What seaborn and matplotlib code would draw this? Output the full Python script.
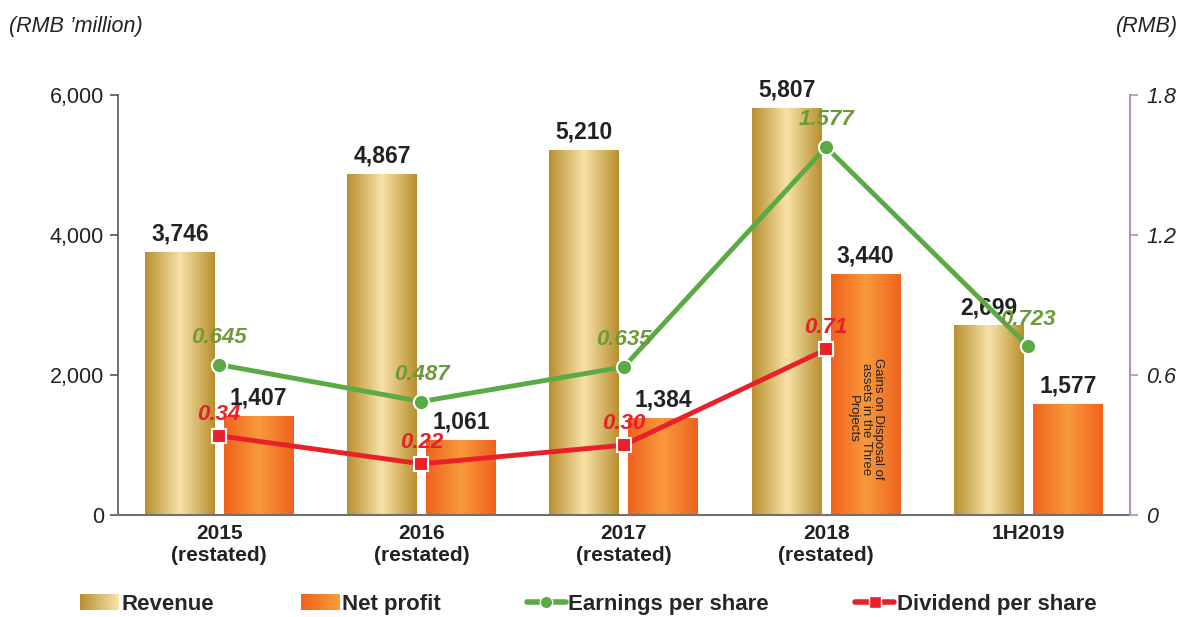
import matplotlib
matplotlib.use("Agg")
import matplotlib.pyplot as plt
import matplotlib.colors as mcolors
from matplotlib.patches import Rectangle
from matplotlib.lines import Line2D
from matplotlib.legend_handler import HandlerBase
import seaborn as sns
import pandas as pd
import numpy as np

# data
periods = ["2015\n(restated)", "2016\n(restated)", "2017\n(restated)", "2018\n(restated)", "1H2019"]
revenue = [3746, 4867, 5210, 5807, 2699]
net_profit = [1407, 1061, 1384, 3440, 1577]
eps = [0.645, 0.487, 0.635, 1.577, 0.723]
dps = [0.34, 0.22, 0.30, 0.71, np.nan]

GOLD = ["#B8902F", "#F8E2A8", "#B8902F"]
ORANGE = ["#F0621E", "#F89A3C", "#F0621E"]
GREEN = "#5BAA46"
GREEN_TXT = "#6E9A3A"
RED = "#E8202A"

sns.set_style("white")
plt.rcParams['font.family'] = ['Liberation Sans', 'DejaVu Sans']

df = pd.DataFrame({
    "period": periods * 2,
    "value": revenue + net_profit,
    "series": ["Revenue"] * 5 + ["Net profit"] * 5,
})

fig = plt.figure(figsize=(11.84, 6.17), dpi=100)
ax = fig.add_axes([0.0997, 0.165, 0.8543, 0.681])

sns.barplot(data=df, x="period", y="value", hue="series", ax=ax, width=0.78, gap=0.115,
            palette=["#E0C070", "#F57F2A"], legend=False, saturation=1)

# gradient fill for the bars
def gradient_fill(ax, patch, stops):
    x0, y0 = patch.get_x(), patch.get_y()
    w, h = patch.get_width(), patch.get_height()
    cmap = mcolors.LinearSegmentedColormap.from_list("g", stops)
    grad = np.linspace(0, 1, 100).reshape(1, -1)
    ax.imshow(grad, cmap=cmap, extent=[x0, x0 + w, y0, y0 + h], aspect="auto",
              zorder=patch.get_zorder(), interpolation="bicubic")
    patch.set_visible(False)

bars = list(ax.patches)
for i, p in enumerate(bars):
    gradient_fill(ax, p, GOLD if i < 5 else ORANGE)

for i, p in enumerate(bars):
    val = revenue[i] if i < 5 else net_profit[i - 5]
    ax.annotate(f"{val:,}", (p.get_x() + p.get_width() / 2, p.get_height()),
                xytext=(0, 5), textcoords="offset points", ha="center", va="bottom",
                fontsize=16.5, fontweight="bold", color="#222222")

# note inside the 2018 profit bar
p18 = bars[8]
ax.text(p18.get_x() + p18.get_width() / 2, 2240, "Gains on Disposal of\nassets in the Three\nProjects",
        rotation=-90, ha="center", va="top", fontsize=9.5, color="#222222", linespacing=1.1)

ax.set_xlim(-0.5, 4.5)
ax.set_ylim(0, 6000)
ax.set_yticks([0, 2000, 4000, 6000])
ax.set_yticklabels(["0", "2,000", "4,000", "6,000"], fontsize=15.5, color="#222222")
ax.set_xticks(range(5))
ax.set_xticklabels(periods, fontsize=15, fontweight="bold", color="#222222")
ax.set_xticks(np.arange(-0.5, 5, 1), minor=True)
ax.tick_params(axis="x", which="major", length=0, pad=6)
ax.tick_params(axis="x", which="minor", length=7, color="#707070", direction="out", width=1.2)
ax.tick_params(axis="y", length=6, color="#555555", direction="out", width=1.2, pad=4)
ax.set_xlabel("")
ax.set_ylabel("")
for s in ["top", "right"]:
    ax.spines[s].set_visible(False)
ax.spines["left"].set_color("#555555")
ax.spines["left"].set_linewidth(1.2)
ax.spines["bottom"].set_color("#707070")
ax.spines["bottom"].set_linewidth(1.5)

# per-share lines on the right axis
ax2 = ax.twinx()
xs = np.arange(5)
sns.lineplot(x=xs, y=eps, ax=ax2, color=GREEN, lw=3.5, marker="o", markersize=11,
             markeredgecolor="white", markeredgewidth=1.5, zorder=3)
sns.lineplot(x=xs[:4], y=dps[:4], ax=ax2, color=RED, lw=3.5, marker="s", markersize=10,
             markeredgecolor="white", markeredgewidth=1.5, zorder=4)
for x, v in zip(xs, eps):
    ax2.annotate(f"{v:g}", (x, v), xytext=(0, 12), textcoords="offset points", ha="center",
                 va="bottom", fontsize=16, fontweight="bold", fontstyle="italic", color=GREEN_TXT)
for x, v in zip(xs[:4], dps[:4]):
    ax2.annotate(f"{v:.2f}", (x, v), xytext=(0, 8), textcoords="offset points", ha="center",
                 va="bottom", fontsize=16, fontweight="bold", fontstyle="italic", color=RED)

ax2.set_ylim(0, 1.8)
ax2.set_yticks([0, 0.6, 1.2, 1.8])
ax2.set_yticklabels(["0", "0.6", "1.2", "1.8"], fontsize=15.5, fontstyle="italic", color="#222222")
ax2.tick_params(axis="y", length=6, color="#B48CC0", direction="out", width=1.2, pad=6)
for s in ["top", "left", "bottom"]:
    ax2.spines[s].set_visible(False)
ax2.spines["right"].set_color("#B48CC0")
ax2.spines["right"].set_linewidth(1.5)
ax2.set_xlim(-0.5, 4.5)

fig.text(0.008, 0.957, "(RMB \u2019million)", fontsize=15.5, fontstyle="italic", color="#222222",
         ha="left", va="center")
fig.text(0.995, 0.957, "(RMB)", fontsize=15.5, fontstyle="italic", color="#222222",
         ha="right", va="center")

# legend with gradient swatches
class GradientHandler(HandlerBase):
    def __init__(self, stops):
        super().__init__()
        self.stops = stops

    def create_artists(self, legend, orig_handle, xdescent, ydescent, width, height, fontsize, trans):
        cmap = mcolors.LinearSegmentedColormap.from_list("g", self.stops)
        n = 24
        arts = []
        for k in range(n):
            r = Rectangle((-xdescent + width * k / n, -ydescent), width / n + 0.3, height,
                          facecolor=cmap(k / (n - 1)), edgecolor="none", transform=trans)
            arts.append(r)
        return arts

h_rev = Rectangle((0, 0), 1, 1)
h_np = Rectangle((0, 0), 1, 1)
h_eps = Line2D([], [], color=GREEN, lw=4, marker="o", markersize=9, markeredgecolor="white")
h_dps = Line2D([], [], color=RED, lw=4, marker="s", markersize=9, markeredgecolor="white")
fig.legend([h_rev, h_np, h_eps, h_dps], ["Revenue", "Net profit", "Earnings per share", "Dividend per share"],
           handler_map={h_rev: GradientHandler(GOLD[:2]), h_np: GradientHandler(["#F0621E", "#F89A3C"])},
           loc="center left", bbox_to_anchor=(69 / 1184, 0.021), ncol=4, frameon=False, borderpad=0,
           handlelength=1.75, handletextpad=0.1, columnspacing=3.9,
           prop={"weight": "bold", "size": 16})

fig.savefig("out.png", dpi=100)
